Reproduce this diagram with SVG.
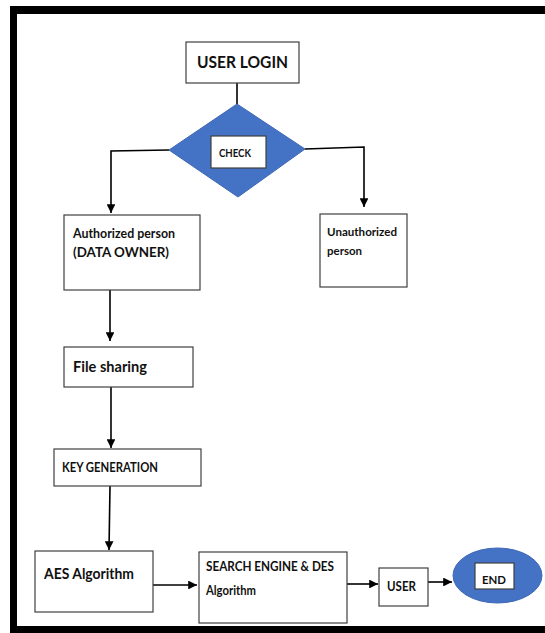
<svg xmlns="http://www.w3.org/2000/svg" width="545" height="633" viewBox="0 0 545 633">
  <style>
    .box { fill: #ffffff; stroke: #404040; stroke-width: 1.2; }
    .blue { fill: #4472c4; stroke: #3f68b5; stroke-width: 1; }
    .lbl { font-family: Lato, "Open Sans", "Liberation Sans", sans-serif; font-weight: 700; fill: #111111; }
    .conn { fill: none; stroke: #000000; stroke-width: 1.6; }
  </style>
  <defs>
    <marker id="arrow" viewBox="0 0 10 10" refX="10" refY="5" markerWidth="5.5" markerHeight="5.5" markerUnits="strokeWidth" orient="auto">
      <path d="M0,0 L10,5 L0,10 z" fill="#000000"/>
    </marker>
  </defs>

  <rect width="545" height="633" fill="#ffffff"/>

  <!-- page frame -->
  <g id="frame" fill="#000000">
    <rect x="10" y="6" width="535" height="8"/>
    <rect x="10" y="6" width="7" height="627"/>
    <rect x="10" y="626" width="535" height="7"/>
  </g>

  <!-- connectors -->
  <g id="connectors" class="conn">
    <line x1="237" y1="83" x2="237" y2="104"/>
    <polyline points="169,150 111,151 111,213" marker-end="url(#arrow)"/>
    <polyline points="305,149 364,147 364,207" marker-end="url(#arrow)"/>
    <line x1="110" y1="290" x2="110" y2="341" marker-end="url(#arrow)"/>
    <line x1="111" y1="387" x2="111" y2="448" marker-end="url(#arrow)"/>
    <line x1="110" y1="486" x2="109" y2="550" marker-end="url(#arrow)"/>
    <line x1="153" y1="585" x2="197" y2="585" marker-end="url(#arrow)"/>
    <line x1="347" y1="584" x2="378" y2="584" marker-end="url(#arrow)"/>
    <line x1="428" y1="582" x2="452" y2="582" marker-end="url(#arrow)"/>
  </g>

  <g id="user-login">
    <rect class="box" x="186" y="42" width="113" height="41"/>
    <text class="lbl" x="197" y="68" font-size="17" textLength="91" lengthAdjust="spacingAndGlyphs">USER LOGIN</text>
  </g>

  <g id="check">
    <polygon class="blue" points="237,104 305,149 238,197 169,150"/>
    <rect class="box" x="211" y="136" width="55" height="32"/>
    <text class="lbl" x="219" y="157" font-size="12" textLength="32" lengthAdjust="spacingAndGlyphs">CHECK</text>
  </g>

  <g id="authorized">
    <rect class="box" x="64" y="215" width="136" height="75"/>
    <text class="lbl" x="73" y="238" font-size="13.5" textLength="102" lengthAdjust="spacingAndGlyphs">Authorized person</text>
    <text class="lbl" x="73" y="257" font-size="13.5" textLength="96" lengthAdjust="spacingAndGlyphs">(DATA OWNER)</text>
  </g>

  <g id="unauthorized">
    <rect class="box" x="320" y="214" width="87" height="73"/>
    <text class="lbl" x="327" y="236" font-size="12" textLength="70" lengthAdjust="spacingAndGlyphs">Unauthorized</text>
    <text class="lbl" x="327" y="255" font-size="12" textLength="35" lengthAdjust="spacingAndGlyphs">person</text>
  </g>

  <g id="file-sharing">
    <rect class="box" x="64" y="347" width="129" height="40"/>
    <text class="lbl" x="73" y="372" font-size="16" textLength="74" lengthAdjust="spacingAndGlyphs">File sharing</text>
  </g>

  <g id="key-generation">
    <rect class="box" x="54" y="449" width="147" height="37"/>
    <text class="lbl" x="62" y="472" font-size="13" textLength="96" lengthAdjust="spacingAndGlyphs">KEY GENERATION</text>
  </g>

  <g id="aes">
    <rect class="box" x="35" y="551" width="118" height="61"/>
    <text class="lbl" x="44" y="579" font-size="16" textLength="90" lengthAdjust="spacingAndGlyphs">AES Algorithm</text>
  </g>

  <g id="search-des">
    <rect class="box" x="199" y="552" width="148" height="71"/>
    <text class="lbl" x="206" y="571" font-size="12.5" textLength="128" lengthAdjust="spacingAndGlyphs">SEARCH ENGINE &amp; DES</text>
    <text class="lbl" x="206" y="595" font-size="12.5" textLength="50" lengthAdjust="spacingAndGlyphs">Algorithm</text>
  </g>

  <g id="user">
    <rect class="box" x="379" y="568" width="49" height="38"/>
    <text class="lbl" x="387" y="591" font-size="13" textLength="29" lengthAdjust="spacingAndGlyphs">USER</text>
  </g>

  <g id="end">
    <ellipse class="blue" cx="497.5" cy="575.5" rx="44.5" ry="27.5"/>
    <rect class="box" x="475" y="563" width="39" height="26"/>
    <text class="lbl" x="482" y="584" font-size="11.5" textLength="24" lengthAdjust="spacingAndGlyphs">END</text>
  </g>
</svg>
